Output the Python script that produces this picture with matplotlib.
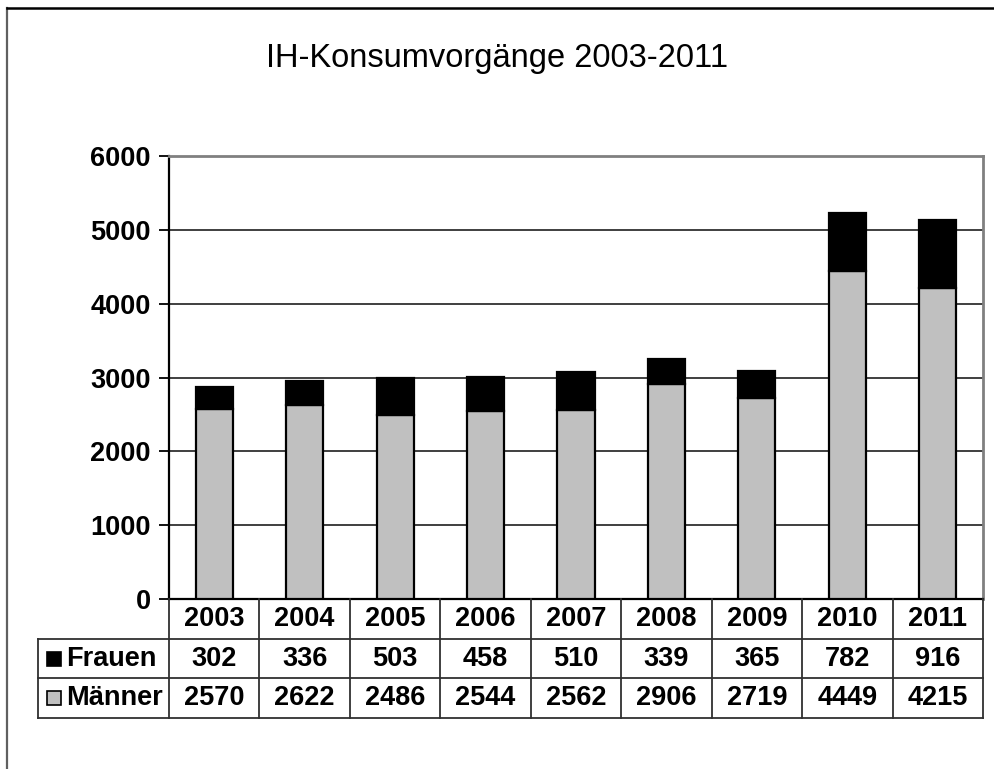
import matplotlib
matplotlib.use('Agg')
import numpy as np
import matplotlib.pyplot as plt
from matplotlib.patches import Rectangle
from matplotlib.lines import Line2D

years = ['2003', '2004', '2005', '2006', '2007', '2008', '2009', '2010', '2011']
frauen = [302, 336, 503, 458, 510, 339, 365, 782, 916]
maenner = [2570, 2622, 2486, 2544, 2562, 2906, 2719, 4449, 4215]
yticks = [0, 1000, 2000, 3000, 4000, 5000, 6000]

W, H = 995, 769
plt.rcParams['font.family'] = ['Liberation Sans', 'DejaVu Sans']

fig = plt.figure(figsize=(W / 100, H / 100), dpi=100)
fig.patch.set_facecolor('white')

# outer frame (left + top only visible)
fig.add_artist(Line2D([7 / W, 7 / W], [0, 1 - 8 / H], color='#606060', lw=1.6))
fig.add_artist(Line2D([7 / W, 1], [1 - 8 / H, 1 - 8 / H], color='black', lw=1.8))

fig.text(497 / W, 1 - 59 / H, 'IH-Konsumvorgänge 2003-2011', ha='center', va='center',
         fontsize=23.5)

# plot area
left, right, top, bottom = 169, 983, 156, 599
ax = fig.add_axes([left / W, 1 - bottom / H, (right - left) / W, (bottom - top) / H])
x = np.arange(len(years))
ax.bar(x, maenner, width=0.41, color='#c0c0c0', edgecolor='black', linewidth=1.6, zorder=3)
ax.bar(x, frauen, width=0.41, bottom=maenner, color='black', edgecolor='black',
       linewidth=1.6, zorder=3)
ax.set_xlim(-0.5, len(years) - 0.5)
ax.set_ylim(0, 6000)
ax.set_yticks(yticks)
ax.set_yticklabels([str(v) for v in yticks], fontsize=19.5, fontweight='bold')
ax.set_xticks([])
ax.yaxis.grid(True, color='#303030', lw=1.3, zorder=1)
ax.tick_params(axis='y', length=7, width=1.3, direction='out', pad=6)
for s in ['top', 'right']:
    ax.spines[s].set_color('#808080')
    ax.spines[s].set_linewidth(2)
ax.spines['left'].set_linewidth(1.6)
ax.spines['bottom'].set_linewidth(1.6)

# data table
tleft, tbottom = 38, 718
tx = fig.add_axes([tleft / W, 1 - tbottom / H, (right - tleft) / W, (tbottom - bottom) / H])
colw = (right - left) / len(years)
x0 = -0.5 - (left - tleft) / colw
tx.set_xlim(x0, len(years) - 0.5)
tx.set_ylim(0, 3)
tx.axis('off')
lc, lw = '#303030', 1.3
for k in range(len(years) + 1):
    tx.plot([k - 0.5, k - 0.5], [0, 3], color=lc, lw=lw, clip_on=False)
tx.plot([x0, x0], [0, 2], color=lc, lw=lw, clip_on=False)
tx.plot([x0, len(years) - 0.5], [0, 0], color=lc, lw=lw, clip_on=False)
tx.plot([x0, len(years) - 0.5], [1, 1], color=lc, lw=lw, clip_on=False)
tx.plot([x0, len(years) - 0.5], [2, 2], color=lc, lw=lw, clip_on=False)

fs = 19.5
for i in range(len(years)):
    tx.text(i, 2.5, years[i], ha='center', va='center', fontsize=fs, fontweight='bold')
    tx.text(i, 1.5, str(frauen[i]), ha='center', va='center', fontsize=fs, fontweight='bold')
    tx.text(i, 0.5, str(maenner[i]), ha='center', va='center', fontsize=fs, fontweight='bold')

# row labels with legend keys
sq_w = 14 / colw
sq_h = 14 / ((tbottom - bottom) / 3)
key_x = x0 + 9 / colw
tx.add_patch(Rectangle((key_x, 1.5 - sq_h / 2), sq_w, sq_h, facecolor='black',
                       edgecolor='black', lw=1.2, clip_on=False))
tx.add_patch(Rectangle((key_x, 0.5 - sq_h / 2), sq_w, sq_h, facecolor='#c0c0c0',
                       edgecolor='black', lw=1.2, clip_on=False))
lab_x = x0 + 28 / colw
tx.text(lab_x, 1.5, 'Frauen', ha='left', va='center', fontsize=fs, fontweight='bold')
tx.text(lab_x, 0.5, 'Männer', ha='left', va='center', fontsize=fs, fontweight='bold')

fig.savefig('out.png', dpi=100)
